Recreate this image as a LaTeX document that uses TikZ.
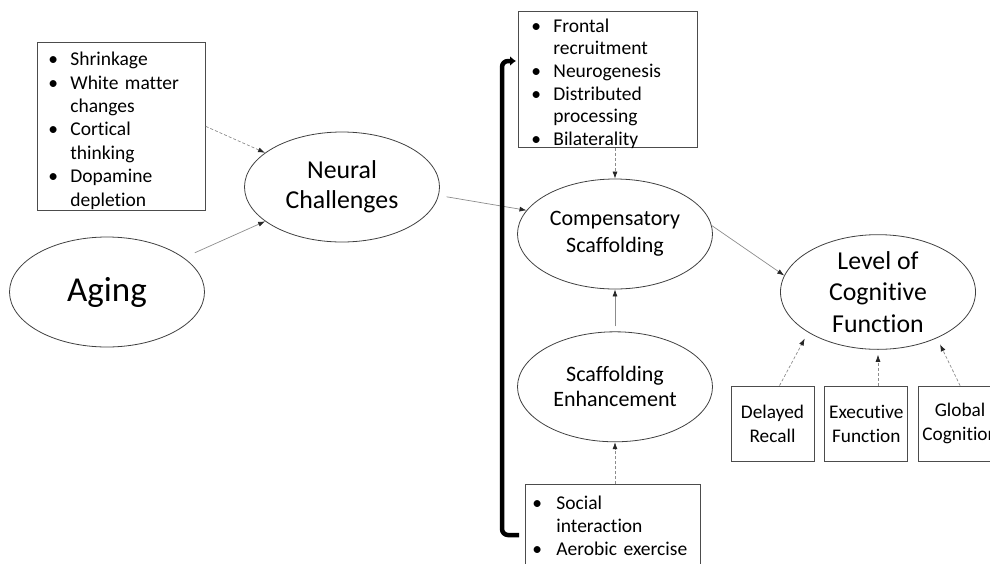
\documentclass[tikz,border=0pt]{standalone}
\usepackage{fontspec}
\setmainfont{Carlito}[Ligatures=NoCommon]
\usetikzlibrary{positioning, arrows.meta, shapes.geometric}
\tikzset{
x=1pt, y=-1pt, % one unit is one pixel of the sketch, y runs downwards
oval/.style={ellipse, draw=black!75, line width=0.8pt, minimum width=195pt, minimum height=110pt, inner sep=0pt, align=center}, % the round concepts
listbox/.style={draw=black!70, line width=0.8pt, anchor=north west, inner ysep=0pt, align=left}, % boxes holding bullet lists
measure/.style={draw=black!70, line width=0.8pt, minimum width=83pt, minimum height=75pt, inner sep=0pt, align=center, font=\fontsize{19.3}{24}\selectfont}, % the three outcome measures
link/.style={-{Latex[length=7pt,width=5pt,color=black!85]}, draw=black!45, line width=0.7pt}, % plain grey arrow
dlink/.style={link, dash pattern=on 3pt off 2pt}, % dashed grey arrow
feedback/.style={-{Latex[length=6pt,width=10pt]}, line width=4.5pt, rounded corners=6pt}, % the thick return path
}

\begin{document}
\begin{tikzpicture}
    \useasboundingbox (0,0) rectangle (990,563);
    \clip (0,0) rectangle (990,563);

    % concepts
    \node[oval, font=\fontsize{35}{40}\selectfont] (aging) at (107,292) {Aging};
    \node[oval, font=\fontsize{25.8}{30}\selectfont] (neural) at (342,187) {Neural\\Challenges};
    \node[oval, font=\fontsize{22}{27}\selectfont] (comp) at (615,234) {Compensatory\\Scaffolding};
    \node[oval, font=\fontsize{22}{25}\selectfont, below=42pt of comp] (enhance) {Scaffolding\\Enhancement};
    \node[oval, font=\fontsize{25.8}{31.5}\selectfont] (level) at (878,292) {Level of\\Cognitive\\Function};

    % bullet lists
    \node[listbox, font=\fontsize{19.5}{23.4}\selectfont, inner xsep=11pt, text width=146pt, text height=94pt, text depth=74pt] (brainbox) at (37,42) {%
      \begin{tabular}{@{}p{22pt}@{}l@{}}
      \textbullet & Shrinkage\\
      \textbullet & White matter\\
                  & changes\\
      \textbullet & Cortical\\
                  & thinking\\
      \textbullet & Dopamine\\
                  & depletion
      \end{tabular}};
    \node[listbox, font=\fontsize{19.5}{22.6}\selectfont, inner xsep=13pt, text width=153pt, text height=78pt, text depth=58pt] (compbox) at (518,11) {%
      \begin{tabular}{@{}p{22pt}@{}l@{}}
      \textbullet & Frontal\\
                  & recruitment\\
      \textbullet & Neurogenesis\\
      \textbullet & Distributed\\
                  & processing\\
      \textbullet & Bilaterality
      \end{tabular}};
    \node[listbox, font=\fontsize{19.5}{23}\selectfont, inner xsep=7pt, inner ysep=9pt, text width=161pt, text depth=80pt] (socialbox) at (525,484) {%
      \begin{tabular}{@{}p{24pt}@{}l@{}}
      \textbullet & Social\\
                  & interaction\\
      \textbullet & Aerobic exercise
      \end{tabular}};

    % outcome measures
    \node[measure] (recall) at (772.5,423.5) {Delayed\\Recall};
    \node[measure, right=10pt of recall] (exec) {Executive\\Function};
    \node[measure, right=10pt of exec] (global) {Global\\Cognition};

    % arrows
    \draw[link, shorten <=12pt] (aging) -- (neural);
    \draw[dlink] (brainbox.east) -- (neural);
    \draw[link, shorten <=8pt] (neural.-5) -- (comp.165);
    \draw[dlink] (comp.north |- compbox.south) -- (comp.north);
    \draw[link, shorten <=5pt] (comp.south |- enhance.north) -- (comp.south);
    \draw[dlink] (enhance.south |- socialbox.north) -- (enhance.south);
    \draw[link] (comp.5) -- (level.170);
    \draw[dlink, shorten >=7pt] ([xshift=7pt]recall.north) -- (level.-150);
    \draw[dlink, shorten >=5pt] (level.south |- exec.north) -- (level.south);
    \draw[dlink, shorten >=7pt] (global.north) -- (level.-38);

    % return path from the enhancers back to the compensation list
    \coordinate (loopfoot) at (502,535);
    \coordinate (loophead) at (502,61);
    \draw[feedback, shorten <=6pt, shorten >=2pt] (socialbox.west |- loopfoot) -- (loopfoot) -- (loophead) -- (compbox.west |- loophead);
\end{tikzpicture}
\end{document}
